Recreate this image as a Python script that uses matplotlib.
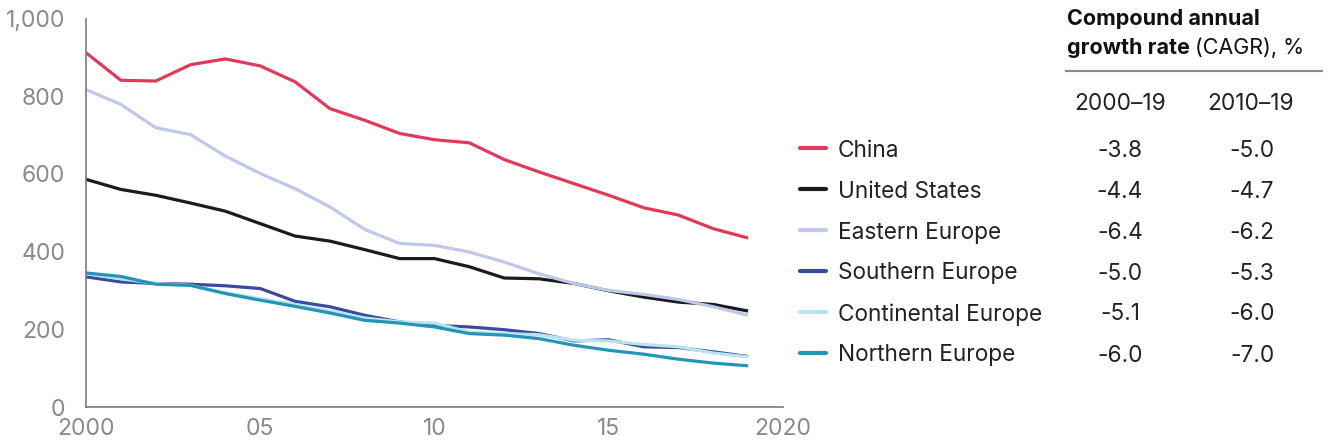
import matplotlib.pyplot as plt

plt.rcParams['font.family'] = ['Inter', 'DejaVu Sans']

years = list(range(2000, 2020))

china = [912, 841, 839, 881, 896, 878, 837, 768, 738, 704, 688,
         680, 637, 605, 575, 545, 513, 494, 459, 435]
united_states = [586, 560, 545, 525, 504, 472, 440, 427, 405, 382, 382,
                 361, 332, 330, 318, 299, 283, 270, 264, 247]
eastern_europe = [817, 779, 719, 701, 646, 601, 562, 515, 457, 421, 416,
                  399, 373, 343, 318, 300, 290, 277, 258, 236]
southern_europe = [335, 322, 318, 316, 312, 305, 272, 258, 236, 219, 210,
                   206, 199, 189, 170, 173, 155, 153, 142, 130]
continental_europe = [343, 330, 318, 313, 294, 279, 264, 247, 229, 219, 216,
                      193, 189, 186, 172, 170, 161, 155, 139, 129]
northern_europe = [345, 336, 316, 313, 292, 275, 259, 242, 223, 216, 206,
                   189, 185, 176, 159, 146, 136, 123, 113, 106]

regions = ["China", "United States", "Eastern Europe", "Southern Europe",
           "Continental Europe", "Northern Europe"]
series = [china, united_states, eastern_europe, southern_europe,
          continental_europe, northern_europe]
colors = ["#e2395b", "#1b1b1b", "#bfc7ea", "#3a4b9f", "#b9e4ef", "#2395b8"]

cagr_2000_19 = ["-3.8", "-4.4", "-6.4", "-5.0", "-5.1", "-6.0"]
cagr_2010_19 = ["-5.0", "-4.7", "-6.2", "-5.3", "-6.0", "-7.0"]

x_ticks = [2000, 2005, 2010, 2015, 2020]
x_labels = ["2000", "05", "10", "15", "2020"]
y_ticks = [0, 200, 400, 600, 800, 1000]
y_labels = ["0", "200", "400", "600", "800", "1,000"]

W, H = 1330, 446
fig = plt.figure(figsize=(W / 100, H / 100), dpi=100)
ax = fig.add_axes([86 / W, 1 - 407 / H, (783 - 86) / W, (407 - 18.5) / H])

for vals, c in zip(series, colors):
    ax.plot(years, vals, color=c, lw=2.3, solid_capstyle='butt')

ax.set_xlim(2000, 2020)
ax.set_ylim(0, 1000)
ax.set_xticks(x_ticks, x_labels)
ax.set_yticks(y_ticks, y_labels)
ax.tick_params(length=0, labelsize=16.5, labelcolor="#8a8a8a")
ax.tick_params(axis='y', pad=15)
ax.tick_params(axis='x', pad=8)
for s in ["top", "right"]:
    ax.spines[s].set_visible(False)
for s in ["left", "bottom"]:
    ax.spines[s].set_color("#7a7a7a")
    ax.spines[s].set_linewidth(1.2)

# legend + CAGR table
def fx(px):
    return px / W

def fy(py):
    return 1 - py / H

fs = 16.3
fig.text(fx(1067), fy(25), "Compound annual", fontsize=15.5, fontweight='bold',
         color="#111111", va='baseline')
t = fig.text(fx(1067), fy(54), "growth rate", fontsize=15.5, fontweight='bold',
             color="#111111", va='baseline')
fig.canvas.draw()
bb = t.get_window_extent()
fig.text(bb.x1 / W + 5 / W, fy(54), "(CAGR), %", fontsize=15.5,
         color="#111111", va='baseline')
fig.add_artist(plt.Line2D([fx(1066), fx(1322)], [fy(71), fy(71)],
                          color="#8a8a8a", lw=1.5))
fig.text(fx(1120), fy(101), "2000–19", fontsize=fs, color="#222222",
         ha='center', va='center_baseline')
fig.text(fx(1251), fy(101), "2010–19", fontsize=fs, color="#222222",
         ha='center', va='center_baseline')

row0, step = 148, 41
for i, (name, c) in enumerate(zip(regions, colors)):
    yy = fy(row0 + i * step)
    fig.add_artist(plt.Line2D([fx(800), fx(826)], [yy, yy], color=c, lw=3,
                              solid_capstyle='round'))
    fig.text(fx(838), yy, name, fontsize=fs, color="#222222",
             va='center_baseline')
    fig.text(fx(1120), yy, cagr_2000_19[i], fontsize=fs, color="#222222",
             ha='center', va='center_baseline')
    fig.text(fx(1252), yy, cagr_2010_19[i], fontsize=fs, color="#222222",
             ha='center', va='center_baseline')

fig.savefig("out.png", dpi=100)
